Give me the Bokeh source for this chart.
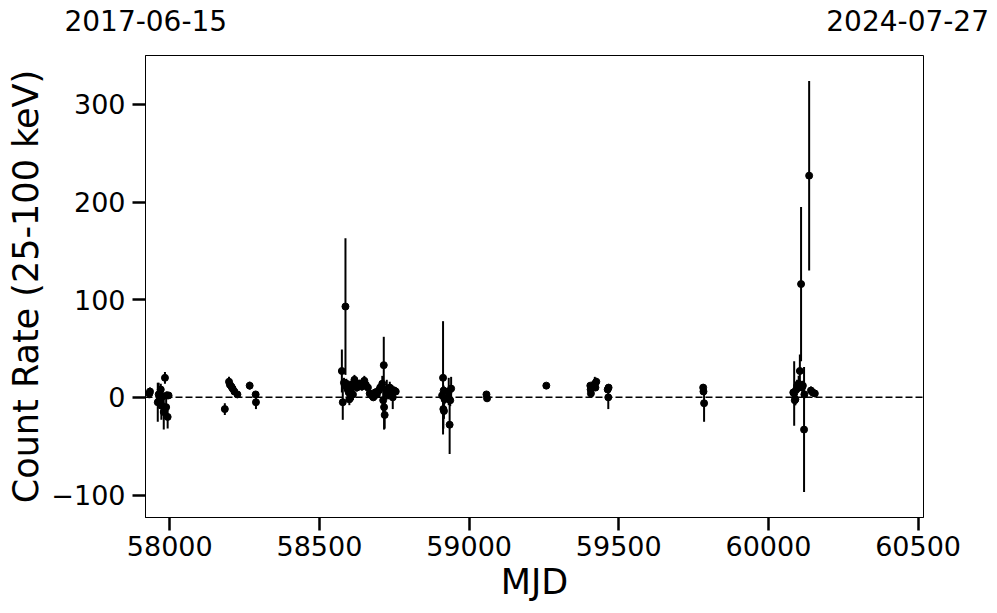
from bokeh.plotting import figure
from bokeh.models import Range1d, Span, FixedTicker, LinearAxis
from bokeh.embed import file_html
from bokeh.resources import INLINE

# ---- data (MJD, count rate 25-100 keV, 1-sigma error) ----
mjd = [57932, 57934, 57960, 57963, 57966, 57970, 57972, 57976, 57980, 57984,
       57988, 57990, 57993, 57996,
       58184, 58198, 58201, 58206, 58210, 58216, 58226, 58267, 58287, 58288,
       58575, 58578, 58582, 58585, 58587, 58590, 58595, 58598, 58600, 58603,
       58607, 58612, 58617, 58620, 58625, 58630, 58635, 58642, 58650, 58655,
       58662, 58668, 58675, 58680, 58686, 58692, 58698, 58703, 58710, 58713,
       58715, 58716, 58718, 58725, 58730, 58735, 58740, 58745, 58750, 58755,
       58910, 58913, 58915, 58914, 58916, 58918, 58930, 58932, 58935, 58937, 58940,
       59058, 59060,
       59258,
       59405, 59406, 59407, 59420, 59422, 59425, 59463, 59465, 59466,
       59782, 59783, 59785,
       60083, 60086, 60088, 60090, 60093, 60096, 60099, 60101, 60103, 60105,
       60109, 60112, 60115, 60119, 60120, 60136, 60142, 60148, 60155]
rate = [4, 6, -5, 3, -2, 8, -8, 1, -15, 20,
        -10, 2, -20, 2,
        -12, 16, 13, 11, 9, 6, 3, 12, 3, -5,
        27, -5, 15, 12, 93, 14, 8, 5, -2, 12,
        10, 3, 18, 15, 10, 12, 14, 11, 17, 13,
        10, 4, 2, 0, 5, 3, 7, 10, 14, -3,
        33, -10, -18, 8, 3, 10, 6, 0, 7, 6,
        2, 20, 7, -12, -14, -2, 0, 6, -28, -3, 9,
        3, -1,
        12,
        12, 8, 4, 14, 10, 16, 8, 0, 10,
        10, 6, -6,
        5, 4, -3, -2, 8, 12, 10, 14, 13, 27,
        116, 10, 12, -33, 3, 227, 7, 5, 4]
err = [5, 4, 20, 12, 10, 6, 15, 6, 18, 6,
       10, 4, 12, 3,
       6, 5, 4, 4, 4, 3, 3, 4, 3, 7,
       22, 18, 5, 6, 70, 5, 6, 8, 6, 5,
       4, 6, 5, 5, 4, 5, 4, 4, 5, 4,
       4, 3, 4, 3, 4, 4, 6, 5, 8, 15,
       29, 23, 14, 10, 5, 6, 4, 12, 4, 3,
       4, 58, 5, 20, 8, 5, 5, 14, 30, 6, 12,
       2, 3,
       2,
       3, 3, 3, 7, 3, 4, 3, 12, 3,
       3, 3, 19,
       4, 33, 5, 6, 5, 6, 5, 8, 5, 17,
       79, 4, 5, 64, 4, 97, 4, 3, 3]

x_ticks = [58000, 58500, 59000, 59500, 60000, 60500]
y_ticks = [-100, 0, 100, 200, 300]
start_date = "2017-06-15"
end_date = "2024-07-27"
x_lo, x_hi = 57919, 60518
y_lo, y_hi = -123, 350

lower = [r - e for r, e in zip(rate, err)]
upper = [r + e for r, e in zip(rate, err)]

FONT = "DejaVu Sans"
W, H = 997, 613
B_LEFT, B_RIGHT, B_TOP, B_BOTTOM = 145, 74, 55, 96
px_per_day = (W - B_LEFT - B_RIGHT) / (x_hi - x_lo)

p = figure(width=W, height=H, output_backend="svg", toolbar_location=None,
           x_range=Range1d(x_lo, x_hi), y_range=Range1d(y_lo, y_hi),
           min_border_left=B_LEFT, min_border_right=B_RIGHT, min_border_top=B_TOP,
           min_border_bottom=B_BOTTOM)
p.background_fill_color = "white"
p.border_fill_color = "white"
p.outline_line_color = "black"
p.outline_line_width = 1
p.xgrid.visible = False
p.ygrid.visible = False

zero = Span(location=0, dimension="width", line_color="black",
            line_width=1.5, line_dash="7 3")
p.add_layout(zero)

p.segment(x0=mjd, y0=lower, x1=mjd, y1=upper, line_color="black", line_width=2)
p.scatter(mjd, rate, size=7, color="black", marker="circle")

for ax in (p.xaxis[0], p.yaxis[0]):
    ax.major_label_text_font = FONT
    ax.major_label_text_font_size = "27px"
    ax.major_label_text_color = "black"
    ax.axis_label_text_font = FONT
    ax.axis_label_text_font_size = "35px"
    ax.axis_label_text_font_style = "normal"
    ax.axis_label_text_color = "black"
    ax.major_tick_out = 13
    ax.major_tick_in = 0
    ax.major_tick_line_width = 2.5
    ax.major_tick_line_color = "black"
    ax.minor_tick_line_color = None
    ax.axis_line_color = "black"
    ax.axis_line_width = 1

p.xaxis.ticker = FixedTicker(ticks=x_ticks)
p.yaxis.ticker = FixedTicker(ticks=y_ticks)
p.yaxis.major_label_overrides = {t: ("\u2212" + str(-t) if t < 0 else str(t)) for t in y_ticks}
p.xaxis.axis_label = "MJD"
p.yaxis.axis_label = "Count Rate (25-100 keV)"
p.xaxis.major_label_standoff = 5
p.yaxis.major_label_standoff = 7
p.xaxis.axis_label_standoff = 3
p.yaxis.axis_label_standoff = 2

# ---- top axis carrying the start / end dates of the light curve ----
left_tick = x_lo + 1
right_tick = x_hi - int(round(16 / px_per_day))
p.extra_x_ranges = {"dates": Range1d(x_lo, x_hi)}
top = LinearAxis(x_range_name="dates",
                 ticker=FixedTicker(ticks=[left_tick, right_tick]),
                 major_label_overrides={left_tick: start_date, right_tick: end_date})
top.major_label_text_font = FONT
top.major_label_text_font_size = "28px"
top.major_label_text_color = "black"
top.major_tick_line_color = None
top.minor_tick_line_color = None
top.major_tick_out = 0
top.major_tick_in = 0
top.axis_line_color = None
top.major_label_standoff = 25
p.add_layout(top, "above")

open("out.html", "w").write(file_html(p, INLINE))
